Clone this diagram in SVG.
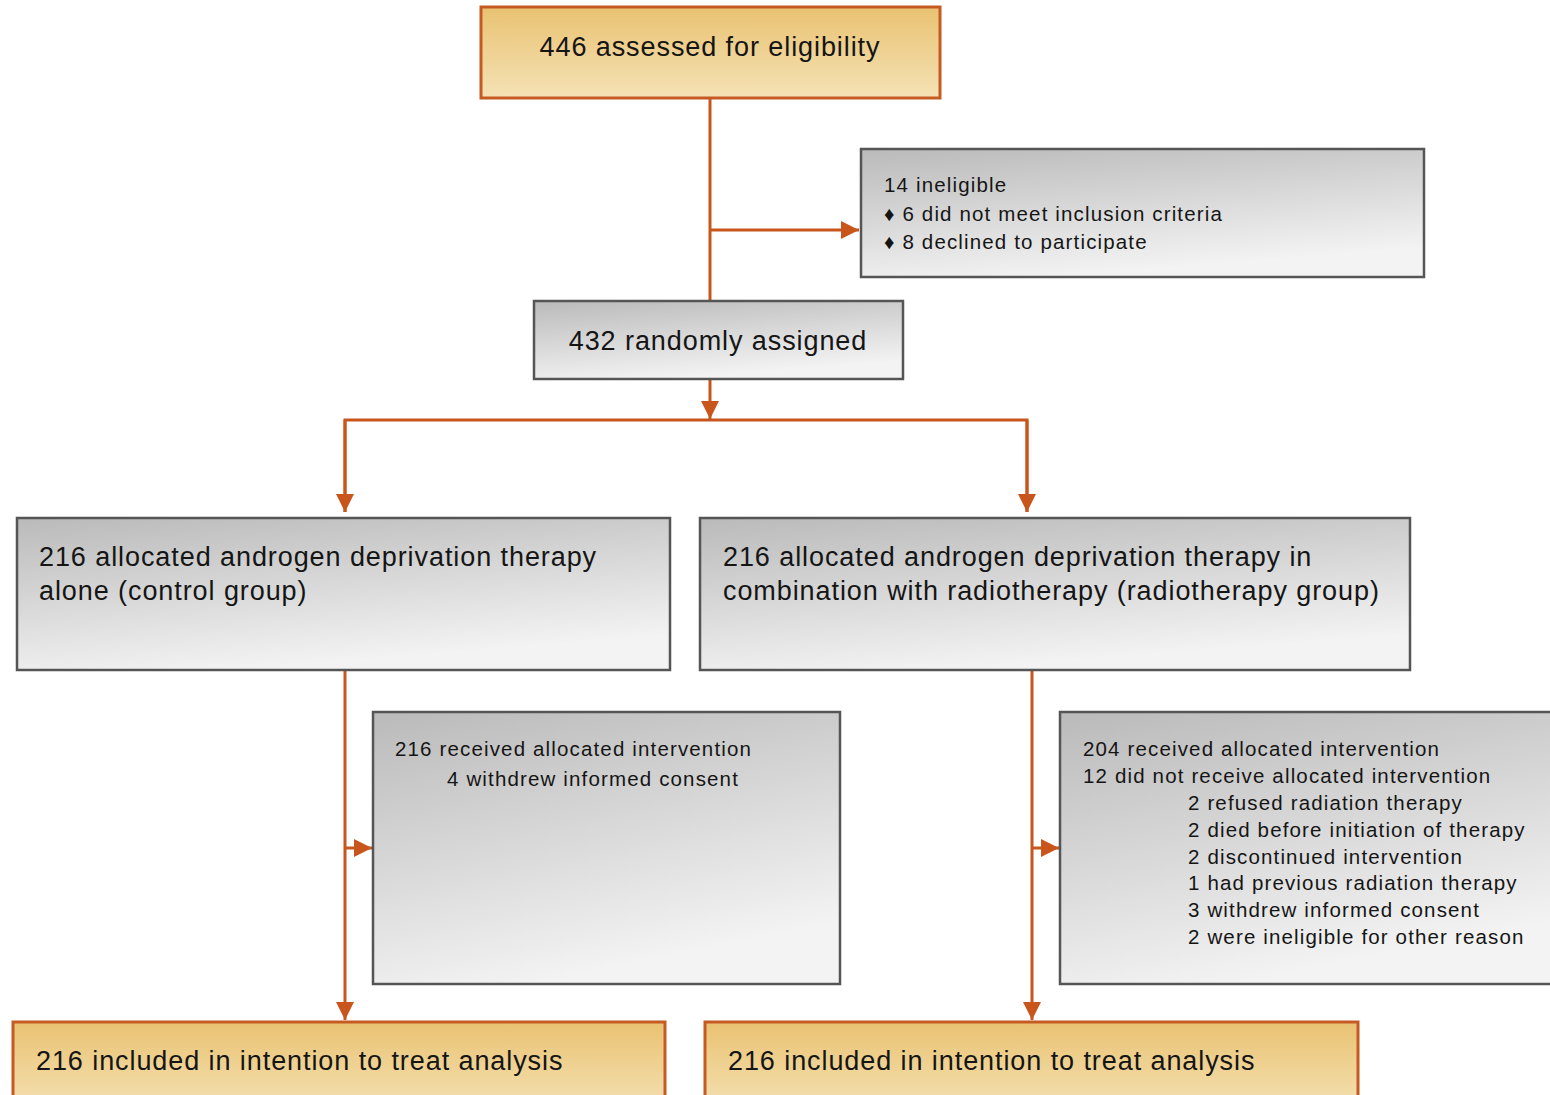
<svg xmlns="http://www.w3.org/2000/svg" width="1550" height="1095" viewBox="0 0 1550 1095">
<style>
text{font-family:"Liberation Sans",Arial,sans-serif;fill:#151515}
.big{font-size:27px;letter-spacing:0.92px}
.sm{font-size:20.5px;letter-spacing:1.15px}
.ob{fill:url(#og);stroke:#c55a22;stroke-width:3}
.gb{fill:url(#gg);stroke:#555;stroke-width:2.5}
.ln{stroke:#c8561c;stroke-width:3;fill:none}
</style>
<defs>
<linearGradient id="og" x1="0" y1="0" x2="0" y2="1">
<stop offset="0" stop-color="#e9c272"/>
<stop offset="1" stop-color="#f5e2b5"/>
</linearGradient>
<linearGradient id="gg" x1="0" y1="0" x2="0.35" y2="1">
<stop offset="0" stop-color="#bababa"/>
<stop offset="1" stop-color="#f3f3f3"/>
</linearGradient>
<marker id="ah" viewBox="0 0 10 10" refX="10" refY="5" markerWidth="6" markerHeight="6" orient="auto" markerUnits="strokeWidth">
<path d="M0,0 L10,5 L0,10 Z" fill="#c8561c"/>
</marker>
</defs>
<g id="connectors">
<line class="ln" x1="710" y1="98" x2="710" y2="301"/>
<line class="ln" x1="710" y1="230" x2="859" y2="230" marker-end="url(#ah)"/>
<line class="ln" x1="710" y1="379" x2="710" y2="419" marker-end="url(#ah)"/>
<polyline class="ln" points="345,512 345,420 1027,420 1027,512"/>
<line class="ln" x1="345" y1="420" x2="345" y2="512" marker-end="url(#ah)"/>
<line class="ln" x1="1027" y1="420" x2="1027" y2="512" marker-end="url(#ah)"/>
<line class="ln" x1="345" y1="670" x2="345" y2="1020" marker-end="url(#ah)"/>
<line class="ln" x1="345" y1="848" x2="372" y2="848" marker-end="url(#ah)"/>
<line class="ln" x1="1032" y1="670" x2="1032" y2="1020" marker-end="url(#ah)"/>
<line class="ln" x1="1032" y1="848" x2="1059" y2="848" marker-end="url(#ah)"/>
</g>
<g id="n1">
<rect class="ob" x="481" y="7" width="459" height="91"/>
<text class="big" x="710" y="56" text-anchor="middle">446 assessed for eligibility</text>
</g>
<g id="n2">
<rect class="gb" x="861" y="149" width="563" height="128"/>
<text class="sm" x="884" y="192">14 ineligible</text>
<text class="sm" x="884" y="221">♦ 6 did not meet inclusion criteria</text>
<text class="sm" x="884" y="249">♦ 8 declined to participate</text>
</g>
<g id="n3">
<rect class="gb" x="534" y="301" width="369" height="78"/>
<text class="big" x="718" y="350" text-anchor="middle">432 randomly assigned</text>
</g>
<g id="n4">
<rect class="gb" x="17" y="518" width="653" height="152"/>
<text class="big" x="39" y="566">216 allocated androgen deprivation therapy</text>
<text class="big" x="39" y="600">alone (control group)</text>
</g>
<g id="n5">
<rect class="gb" x="700" y="518" width="710" height="152"/>
<text class="big" x="723" y="566">216 allocated androgen deprivation therapy in</text>
<text class="big" x="723" y="600">combination with radiotherapy (radiotherapy group)</text>
</g>
<g id="n6">
<rect class="gb" x="373" y="712" width="467" height="272"/>
<text class="sm" x="395" y="756">216 received allocated intervention</text>
<text class="sm" x="447" y="786">4 withdrew informed consent</text>
</g>
<g id="n7">
<rect class="gb" x="1060" y="712" width="500" height="272"/>
<text class="sm" x="1083" y="756">204 received allocated intervention</text>
<text class="sm" x="1083" y="783">12 did not receive allocated intervention</text>
<text class="sm" x="1188" y="810">2 refused radiation therapy</text>
<text class="sm" x="1188" y="837">2 died before initiation of therapy</text>
<text class="sm" x="1188" y="864">2 discontinued intervention</text>
<text class="sm" x="1188" y="890">1 had previous radiation therapy</text>
<text class="sm" x="1188" y="917">3 withdrew informed consent</text>
<text class="sm" x="1188" y="944">2 were ineligible for other reason</text>
</g>
<g id="n8">
<rect class="ob" x="13" y="1022" width="652" height="90"/>
<text class="big" x="36" y="1070">216 included in intention to treat analysis</text>
</g>
<g id="n9">
<rect class="ob" x="705" y="1022" width="653" height="90"/>
<text class="big" x="728" y="1070">216 included in intention to treat analysis</text>
</g>
</svg>
